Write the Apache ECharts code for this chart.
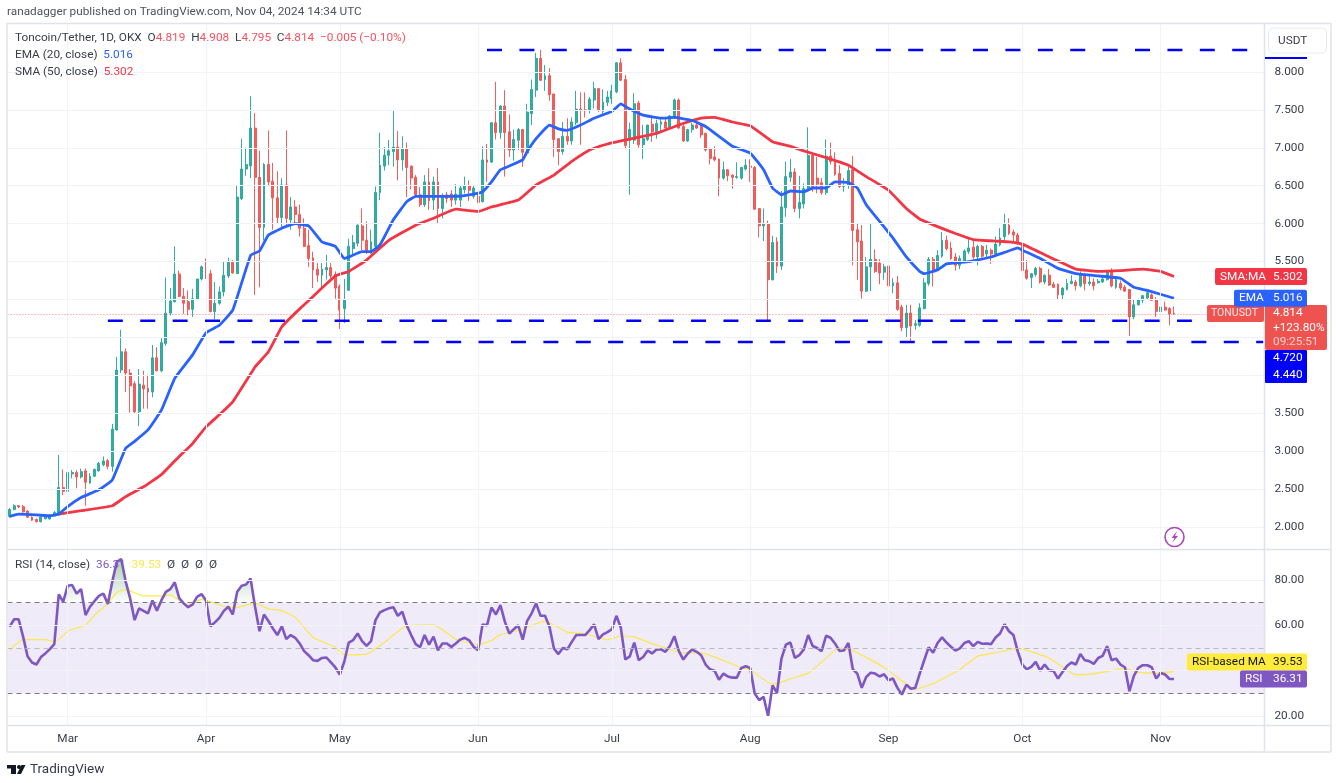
<!DOCTYPE html>
<html>
<head>
<meta charset="utf-8">
<title>TONUSDT</title>
<style>
html, body { margin: 0; padding: 0; background: #fff; }
#main { width: 1341px; height: 783px; }
</style>
<script src="https://cdn.jsdelivr.net/npm/echarts@6/dist/echarts.min.js"></script>
</head>
<body>
<div id="main"></div>
<script>
// k = days since Mar 1 2024, candles run k=-13 (Feb 17) to k=248 (Nov 4)
var march1 = 13
var dayCount = 282

var opens = [
  2.14,2.23,2.28,2.27,2.21,2.13,2.10,2.07,2.11,2.105,
  2.145,2.16,2.52,2.47,2.70,2.72,2.66,2.74,2.58,2.67,
  2.74,2.82,2.875,2.80,3.28,4.07,4.31,4.03,3.89,3.52,
  3.87,3.83,3.78,4.23,4.06,4.42,4.82,4.97,5.335,5.04,
  4.97,4.87,5.0,5.27,5.43,5.34,4.84,4.95,5.10,5.31,
  5.49,5.34,6.33,6.72,6.76,7.26,6.61,5.95,6.78,6.56,
  6.34,6.08,6.51,6.05,6.22,6.12,5.94,5.71,5.55,5.40,
  5.32,5.39,5.42,5.33,5.17,4.88,5.12,5.67,5.74,5.97,
  5.78,5.61,5.70,6.41,6.76,6.90,6.95,7.01,6.84,6.99,
  6.76,6.61,6.38,6.25,6.55,6.31,6.55,6.20,6.38,6.39,
  6.31,6.31,6.45,6.50,6.36,6.36,6.29,6.84,6.81,7.33,
  7.20,7.55,7.21,6.97,7.10,7.24,6.93,7.45,7.76,8.18,
  7.90,7.95,7.71,7.12,6.95,7.15,7.09,7.33,7.51,7.50,
  7.49,7.63,7.78,7.48,7.60,7.65,7.74,8.12,7.90,7.10,
  7.10,7.59,7.04,7.11,7.31,7.21,7.31,7.34,7.26,7.40,
  7.63,7.28,7.09,7.24,7.30,7.28,7.19,6.99,6.88,6.85,
  6.60,6.71,6.64,6.61,6.60,6.72,6.76,6.74,6.20,5.97,
  6.00,5.26,5.76,5.44,6.21,6.61,6.68,6.20,6.26,6.44,
  6.90,6.60,6.54,6.41,6.89,6.84,6.66,6.49,6.50,6.71,
  5.92,5.77,5.11,5.43,5.53,5.48,5.36,5.44,5.18,5.22,
  4.90,4.63,4.82,4.66,4.66,4.88,5.21,5.53,5.39,5.57,
  5.78,5.68,5.56,5.45,5.50,5.63,5.69,5.56,5.70,5.60,
  5.65,5.60,5.72,5.83,5.98,5.89,5.85,5.74,5.39,5.29,
  5.33,5.41,5.23,5.32,5.20,5.20,5.06,5.13,5.21,5.23,
  5.18,5.32,5.21,5.23,5.22,5.23,5.26,5.38,5.16,5.21,
  5.16,5.13,4.77,4.93,4.99,5.02,5.06,5.00,4.84,4.90,4.88,4.819
]
var closes = [
  2.23,2.28,2.265,2.20,2.13,2.09,2.07,2.13,2.145,2.16,
  2.19,2.52,2.47,2.72,2.72,2.66,2.73,2.59,2.67,2.76,
  2.84,2.87,2.80,3.29,4.07,4.31,4.03,3.86,3.52,3.885,
  3.82,3.78,4.23,4.06,4.43,4.82,4.98,5.335,5.04,4.95,
  4.87,5.01,5.27,5.43,5.34,4.84,4.95,5.10,5.32,5.49,
  5.35,6.35,6.72,6.78,7.26,6.61,5.95,6.78,6.55,6.34,
  6.08,6.51,6.07,6.22,6.12,5.94,5.70,5.54,5.39,5.32,
  5.40,5.42,5.31,5.15,4.86,5.00,5.70,5.75,5.98,5.78,
  5.64,5.76,6.41,6.77,6.90,6.96,7.01,6.84,6.99,6.74,
  6.60,6.38,6.25,6.55,6.30,6.55,6.20,6.36,6.33,6.31,
  6.39,6.47,6.50,6.44,6.47,6.28,6.84,6.81,7.33,7.20,
  7.55,7.20,6.97,7.11,7.24,6.94,7.47,7.77,8.18,7.89,
  7.95,7.70,7.11,6.95,7.15,7.09,7.34,7.51,7.50,7.49,
  7.64,7.78,7.50,7.60,7.67,7.75,8.12,7.89,7.03,7.24,
  7.58,7.04,7.12,7.30,7.21,7.32,7.34,7.26,7.42,7.63,
  7.26,7.09,7.24,7.30,7.26,7.17,6.97,6.86,6.84,6.60,
  6.71,6.63,6.61,6.62,6.74,6.77,6.74,6.19,5.97,6.00,
  5.26,5.75,5.44,6.22,6.62,6.68,6.20,6.28,6.46,6.90,
  6.46,6.52,6.41,6.89,6.82,6.65,6.49,6.50,6.70,5.91,
  5.76,5.11,5.43,5.53,5.37,5.35,5.43,5.18,5.22,4.87,
  4.63,4.82,4.65,4.68,4.89,5.22,5.53,5.38,5.58,5.78,
  5.67,5.54,5.45,5.54,5.64,5.68,5.56,5.70,5.57,5.65,
  5.60,5.73,5.81,6.00,5.87,5.85,5.74,5.38,5.28,5.34,
  5.41,5.23,5.32,5.19,5.16,5.06,5.15,5.21,5.24,5.18,
  5.32,5.21,5.23,5.18,5.24,5.27,5.38,5.18,5.26,5.15,
  5.11,4.77,4.93,5.00,5.05,5.09,4.99,4.84,4.90,4.86,4.81,4.814
]
var highs = [
  2.25,2.30,2.29,2.29,2.22,2.14,2.11,2.15,2.16,2.17,
  2.21,2.95,2.76,2.90,2.75,2.75,2.77,2.77,2.71,2.77,
  2.86,2.93,2.90,3.36,4.245,4.60,4.355,4.08,3.92,4.08,
  4.06,4.01,4.40,4.37,4.49,5.29,5.15,5.70,5.38,5.15,
  5.12,5.14,5.27,5.45,5.54,5.39,5.23,5.17,5.50,5.55,
  5.52,6.50,7.12,7.00,7.68,7.46,6.96,6.80,7.23,6.80,
  6.69,6.60,7.23,6.35,6.31,6.25,6.07,5.92,5.63,5.48,
  5.48,5.59,5.48,5.37,5.20,5.27,5.80,5.85,5.99,6.20,
  6.03,5.92,6.49,7.20,7.01,7.10,7.50,7.22,7.15,7.07,
  6.76,6.64,6.48,6.64,6.73,6.62,6.73,6.40,6.42,6.44,
  6.52,6.50,6.62,6.57,6.50,6.40,7.02,7.05,7.34,7.87,
  7.56,7.76,7.44,7.24,7.26,7.25,7.58,7.90,8.25,8.29,
  8.09,8.05,7.71,7.12,7.34,7.39,7.40,7.75,7.73,7.73,
  7.67,7.87,7.78,7.77,7.75,7.83,8.13,8.18,7.96,7.33,
  7.72,7.62,7.30,7.30,7.43,7.37,7.40,7.39,7.43,7.65,
  7.65,7.30,7.25,7.33,7.34,7.30,7.20,7.00,7.02,6.86,
  6.82,6.72,6.65,6.81,6.75,6.85,6.85,6.76,6.20,6.20,
  6.04,5.84,5.82,6.43,6.82,6.85,6.73,6.63,6.53,7.27,
  6.92,6.88,6.60,7.11,7.07,6.94,6.77,6.60,6.75,6.89,
  6.00,5.98,5.56,6.00,5.66,5.53,5.47,5.46,5.28,5.31,
  4.93,4.93,4.93,4.73,4.95,5.28,5.56,5.56,5.65,5.89,
  5.84,5.76,5.61,5.58,5.66,5.80,5.77,5.72,5.72,5.72,
  5.67,5.83,5.94,6.13,6.07,5.92,5.88,5.76,5.52,5.35,
  5.43,5.43,5.33,5.40,5.23,5.21,5.16,5.27,5.32,5.26,
  5.37,5.35,5.32,5.28,5.27,5.30,5.39,5.41,5.30,5.25,
  5.19,5.13,5.00,5.01,5.06,5.12,5.08,5.03,4.95,4.97,4.90,4.908
]
var lows = [
  2.12,2.22,2.25,2.19,2.12,2.08,2.06,2.06,2.10,2.10,
  2.14,2.15,2.42,2.44,2.64,2.51,2.64,2.28,2.57,2.66,
  2.73,2.80,2.76,2.73,3.27,4.03,3.78,3.51,3.50,3.33,
  3.56,3.56,3.71,4.05,4.04,4.39,4.79,4.96,5.03,4.81,
  4.79,4.77,4.99,5.25,5.27,4.83,4.74,4.93,5.04,5.28,
  5.34,5.34,6.31,6.63,6.60,5.06,5.16,5.78,6.50,5.92,
  6.00,5.92,5.96,5.92,6.00,5.83,5.69,5.43,5.15,5.23,
  5.13,5.26,5.28,5.01,4.61,4.69,5.12,5.60,5.70,5.65,
  5.60,5.60,5.68,6.31,6.70,6.77,6.75,6.57,6.70,6.35,
  6.45,6.35,6.22,6.22,6.18,6.18,6.00,6.07,6.27,6.22,
  6.25,6.22,6.40,6.30,6.33,6.27,6.28,6.55,6.80,7.11,
  7.12,6.62,6.88,6.83,6.97,6.75,6.90,7.30,7.67,7.88,
  7.75,7.62,6.88,6.77,6.91,7.04,7.04,7.30,7.04,7.40,
  7.45,7.52,7.47,7.43,7.55,7.58,7.72,7.88,6.98,6.38,
  7.05,7.00,6.85,7.09,7.08,7.12,7.20,7.24,7.25,7.38,
  7.25,7.08,7.08,7.20,7.25,7.13,6.95,6.78,6.82,6.36,
  6.58,6.56,6.46,6.59,6.58,6.70,6.55,6.18,5.82,5.77,
  4.73,5.25,5.35,5.39,6.09,6.55,6.15,6.07,6.20,6.44,
  6.42,6.40,6.38,6.38,6.78,6.63,6.47,6.42,6.46,5.45,
  5.26,5.01,5.10,5.11,5.35,5.20,5.26,5.16,5.08,4.85,
  4.58,4.50,4.44,4.60,4.64,4.87,5.18,5.17,5.38,5.55,
  5.65,5.52,5.38,5.40,5.48,5.60,5.53,5.45,5.55,5.54,
  5.47,5.58,5.70,5.76,5.85,5.76,5.72,5.17,5.26,5.15,
  5.30,5.21,5.20,5.18,5.15,5.00,5.00,5.12,5.20,5.12,
  5.16,5.12,5.18,5.12,5.21,5.22,5.25,5.16,5.14,5.12,
  5.10,4.52,4.74,4.92,4.95,5.00,4.98,4.77,4.79,4.85,4.66,4.795
]
var rsiValues = [
  59.4,62.7,62.7,55,46.4,43.6,42.7,46,47.6,49.5,
  51.7,73.7,70.4,77.5,77.8,74,76,64.5,68.2,70.7,
  73,74,69.4,79.3,88,89.3,79.3,71.9,62.3,67.5,
  66.4,65.3,71,66.4,71,74.8,76,79,72,69.7,
  68,69.2,72.6,73.8,71,59.6,61.3,63.3,66.4,68.2,
  64.8,74.8,77.5,78,80.7,68.2,57.4,64.8,61.9,58.6,
  55.7,59.6,53.9,55.7,54.5,52,48.6,46.8,44.6,44.3,
  45.6,45.8,43.6,41.4,38.3,43.9,52.4,53.5,56.4,53,
  50.9,53,62.3,65.7,66.7,67.5,68,64.2,66,60,
  55.7,51.7,50.4,55.7,51.5,55,49,52,52,50.5,
  52,53.7,54.5,53.4,50.5,49,60.4,60,67.9,64.8,
  68.9,61.6,56.4,58.3,60,53.7,62,65.3,69.7,64.2,
  64.2,59.4,49.8,47.3,50,49.4,52.7,55.7,55.7,55.7,
  57.9,60.4,53.9,56,57,58.3,64.2,58.9,44.9,46.3,
  52.4,44.6,46,48.9,47.6,49.3,49.4,48.3,50.9,55.2,
  48.6,44.9,47.6,49.3,48.3,46.8,42.7,40.6,40,36,
  38.7,37.4,36.9,36.9,41.2,41.9,41.2,29.9,27,28.4,
  20,33.5,30.2,45.3,51.5,52.4,45.6,46.8,49.4,55.7,
  50.9,50,48.6,55.4,54.5,52,48.7,48.9,52.2,40.6,
  38.7,32.4,37.2,39.1,38.7,37.4,38.4,35.8,36.5,32.4,
  29.4,33.8,32,32.4,38.7,44.6,50.3,47.9,52.2,54.7,
  52.4,50.5,48.9,49.8,52.2,53,50.8,52.7,51.9,52,
  51.7,54.6,56.4,60.5,57.4,55.7,48.3,42.7,40.6,41.7,
  43.9,40,42.7,40.2,39.8,36.5,39.4,42,43.6,42.7,
  47.3,44.6,44.2,43,45.6,46.5,50.8,44.6,45.3,42.7,
  41.5,30.9,37.7,41.2,42.4,42.4,41.5,36.5,39,38.3,36.3,36.31
]

var emaDays = [-13,-11,-7,-4,-2,0,3,7,10,13,15,18,21,24,28,31,34,37,41,43,45,48,51,54,57,60,62,63,66,68,70,73,76,78,82,87,91,93,95,97,99,102,103,105,108,110,112,115,118,122,124,126,129,133,136,140,143,146,149,153,156,158,160,162,165,167,170,172,175,177,179,182,185,188,191,192,195,197,202,207,210,213,214,218,222,226,231,236,239,242,248]
var emaValues = [2.14,2.17,2.16,2.145,2.17,2.27,2.39,2.49,2.62,3.04,3.13,3.28,3.54,3.96,4.27,4.56,4.66,4.86,5.58,5.64,5.85,5.94,6.0,5.97,5.76,5.70,5.54,5.56,5.63,5.63,5.72,6.05,6.29,6.36,6.36,6.36,6.39,6.42,6.55,6.71,6.76,6.84,6.95,7.12,7.3,7.25,7.23,7.3,7.39,7.48,7.58,7.51,7.43,7.39,7.4,7.36,7.28,7.15,7.02,6.93,6.71,6.47,6.38,6.43,6.42,6.47,6.47,6.55,6.54,6.47,6.25,6.03,5.81,5.56,5.37,5.34,5.39,5.47,5.5,5.56,5.62,5.68,5.65,5.54,5.41,5.34,5.31,5.28,5.16,5.12,5.016]
var smaDays = [-2,3,10,13,17,21,25,28,31,34,37,42,45,48,51,55,60,63,67,72,78,82,87,92,95,101,105,109,113,117,121,124,128,132,137,142,145,149,153,158,162,165,170,175,179,184,188,191,195,199,203,208,211,214,219,223,226,231,236,241,245,248]
var smaValues = [2.17,2.215,2.28,2.40,2.53,2.69,2.93,3.10,3.32,3.48,3.65,4.11,4.31,4.64,4.82,5.04,5.31,5.37,5.52,5.78,5.98,6.07,6.19,6.16,6.22,6.31,6.51,6.64,6.82,6.97,7.05,7.09,7.14,7.19,7.3,7.39,7.4,7.34,7.29,7.08,7.02,6.96,6.87,6.77,6.62,6.44,6.2,6.06,5.96,5.87,5.79,5.77,5.76,5.73,5.59,5.48,5.4,5.37,5.38,5.4,5.37,5.302]
var rsiMaDays = [-13,-10,-5,-3,-1,0,4,6,9,11,13,17,21,23,27,30,36,38,42,45,48,51,55,60,62,67,71,76,82,87,92,95,97,101,107,112,116,121,124,127,132,138,142,147,151,153,158,162,166,169,173,176,183,186,190,194,200,204,208,213,220,226,230,235,237,240,244,248]
var rsiMaValues = [49,53.7,53.7,52.7,55.4,57.5,60.1,64.5,69.6,74.5,75.8,73,73,73.3,68.9,71.5,68,68,69.8,67.3,66.5,63.5,54.7,50.3,47,47.3,52.5,59.9,60.2,54,51.5,53.3,55.9,57.7,61.9,57,56.3,53.6,55.3,54.8,51.2,47.8,47.8,44.5,41.3,40.4,33.9,36.4,38.9,43.8,50,48.9,41.5,37,31.8,34.3,40.5,46.4,47.9,49.8,45.6,38.2,38.6,40.4,41,39.2,38.9,39.53]

// hand drawn support / resistance levels
var levelValues = [8.29, 4.72, 4.44]
var levelFromDays = [94, 9, 34]
var levelToDays = [266, 252, 268]

var priceTicks = [2, 2.5, 3, 3.5, 4, 4.5, 5, 5.5, 6, 6.5, 7, 7.5, 8]
var priceLabels = [2, 2.5, 3, 3.5, 5.5, 6, 6.5, 7, 7.5, 8]
var rsiTicks = [20, 40, 60, 80]
var rsiLabels = [20, 60, 80]
var monthDays = ['2024-03-01', '2024-04-01', '2024-05-01', '2024-06-01', '2024-07-01', '2024-08-01', '2024-09-01', '2024-10-01', '2024-11-01']
var monthLabels = ['Mar', 'Apr', 'May', 'Jun', 'Jul', 'Aug', 'Sep', 'Oct', 'Nov']

var lastPrice = 4.814, lastEma = 5.016, lastSma = 5.302, lastRsi = 36.31

var fontName = 'Roboto, sans-serif'
var fontSize = 11.8
var textColor = '#3a3d47'
var gridColor = '#f0f3fa'
var frameColor = '#e0e3eb'
var upColor = '#26a69a', downColor = '#ef5350'

// one category per day, the empty ones leave the gap on the right
var categories = []
for (var i = 0; i < dayCount; i++) {
    var d = new Date(Date.UTC(2024, 1, 17 + i))
    categories.push(d.toISOString().substring(0, 10))
}

var candleData = opens.map(function (o, i) {
    return [o, closes[i], lows[i], highs[i]]
})

function pairs (days, values) {
    return days.map(function (k, i) { return [k + march1, values[i]] })
}

function gridLines (ticks) {
    var lines = ticks.map(function (t) { return { yAxis: t } })
    monthDays.forEach(function (m) { lines.push({ xAxis: m }) })
    return lines
}

var series = []

// pane gridlines
series.push({
    type: 'line', xAxisIndex: 0, yAxisIndex: 0, data: [], z: 0, silent: true,
    markLine: { silent: true, symbol: 'none', animation: false, label: { show: false }, lineStyle: { color: gridColor, width: 1, type: 'solid' }, data: gridLines(priceTicks) }
})
series.push({
    type: 'line', xAxisIndex: 1, yAxisIndex: 1, data: [], z: 0, silent: true,
    markLine: { silent: true, symbol: 'none', animation: false, label: { show: false }, lineStyle: { color: gridColor, width: 1, type: 'solid' }, data: gridLines(rsiTicks) }
})

series.push({
    type: 'candlestick', name: 'TONUSDT', xAxisIndex: 0, yAxisIndex: 0, data: candleData, barWidth: 2.4, z: 2,
    itemStyle: { color: upColor, color0: downColor, borderColor: upColor, borderColor0: downColor, borderWidth: 1, opacity: 0.92 },
    markLine: {
        silent: true, symbol: 'none', animation: false, label: { show: false },
        lineStyle: { color: '#ef5350', width: 1, type: [1, 2], opacity: 0.7 },
        data: [{ yAxis: lastPrice }]
    }
})
series.push({
    type: 'line', name: 'SMA', xAxisIndex: 0, yAxisIndex: 0, data: pairs(smaDays, smaValues), z: 3,
    showSymbol: false, smooth: 0.1, lineStyle: { color: '#f23645', width: 2.8 }
})
series.push({
    type: 'line', name: 'EMA', xAxisIndex: 0, yAxisIndex: 0, data: pairs(emaDays, emaValues), z: 4,
    showSymbol: false, smooth: 0.1, lineStyle: { color: '#2962ff', width: 2.8 }
})
levelValues.forEach(function (v, i) {
    series.push({
        type: 'line', xAxisIndex: 0, yAxisIndex: 0, z: 5, showSymbol: false,
        data: [[levelFromDays[i] + march1, v], [levelToDays[i] + march1, v]],
        lineStyle: { color: '#0000ff', width: 2.5, type: [15, 17.4] }
    })
})

// overbought shading sits on top of the 70 line
series.push({
    type: 'line', stack: 'ob', xAxisIndex: 1, yAxisIndex: 1, z: 1, showSymbol: false,
    data: rsiValues.map(function () { return 70 }), lineStyle: { width: 0 }
})
series.push({
    type: 'line', stack: 'ob', xAxisIndex: 1, yAxisIndex: 1, z: 1, showSymbol: false,
    data: rsiValues.map(function (v) { return v > 70 ? v - 70 : 0 }), lineStyle: { width: 0 },
    areaStyle: {
        color: new echarts.graphic.LinearGradient(0, 0, 0, 1, [
            { offset: 0, color: 'rgba(56,142,60,0.6)' },
            { offset: 1, color: 'rgba(56,142,60,0.02)' }
        ])
    }
})
series.push({
    type: 'line', name: 'RSI-based MA', xAxisIndex: 1, yAxisIndex: 1, data: pairs(rsiMaDays, rsiMaValues), z: 3,
    showSymbol: false, smooth: 0.15, lineStyle: { color: '#fde74c', width: 1.2 }
})
series.push({
    type: 'line', name: 'RSI', xAxisIndex: 1, yAxisIndex: 1, data: rsiValues, z: 4,
    showSymbol: false, lineStyle: { color: '#7e57c2', width: 2.6 },
    markArea: {
        silent: true, animation: false, itemStyle: { color: 'rgba(126,87,194,0.12)' },
        data: [[{ yAxis: 30 }, { yAxis: 70 }]]
    },
    markLine: {
        silent: true, symbol: 'none', animation: false, label: { show: false },
        lineStyle: { color: '#787b86', width: 1, type: [5, 4] },
        data: [{ yAxis: 70 }, { yAxis: 30 }, { yAxis: 50, lineStyle: { color: '#b8bac2' } }]
    }
})

var chart = echarts.init(document.getElementById('main'), null, { renderer: 'canvas' })

chart.setOption({
    animation: false,
    backgroundColor: '#fff',
    textStyle: { fontFamily: fontName },
    grid: [
        { left: 7.47, width: 1258, top: 24, height: 525 },
        { left: 7.47, width: 1258, top: 549, height: 176 }
    ],
    xAxis: [
        { type: 'category', gridIndex: 0, data: categories, axisLine: { show: false }, axisTick: { show: false }, axisLabel: { show: false }, splitLine: { show: false } },
        {
            type: 'category', gridIndex: 1, data: categories, axisLine: { show: false }, axisTick: { show: false }, splitLine: { show: false },
            axisLabel: {
                color: textColor, fontSize: fontSize, fontFamily: fontName, margin: 8, hideOverlap: false,
                interval: function (idx, value) { return monthDays.indexOf(value) >= 0 },
                formatter: function (value) { return monthLabels[monthDays.indexOf(value)] }
            }
        }
    ],
    yAxis: [
        {
            type: 'value', gridIndex: 0, position: 'right', min: 1.71, max: 8.632, scale: true,
            axisLine: { show: false }, axisTick: { show: false }, splitLine: { show: false },
            axisLabel: {
                color: textColor, fontSize: fontSize, fontFamily: fontName, margin: 9, padding: [2, 0, 0, 0], customValues: priceLabels,
                formatter: function (v) { return v.toFixed(3) }
            }
        },
        {
            type: 'value', gridIndex: 1, position: 'right', min: 16, max: 93.7, scale: true,
            axisLine: { show: false }, axisTick: { show: false }, splitLine: { show: false },
            axisLabel: {
                color: textColor, fontSize: fontSize, fontFamily: fontName, margin: 9, padding: [2, 0, 0, 0], customValues: rsiLabels,
                formatter: function (v) { return v.toFixed(2) }
            }
        }
    ],
    series: series
})

function text (x, y, str, color, size, extra) {
    var style = { x: x, y: y, text: str, fill: color, fontSize: size || fontSize, fontFamily: fontName, verticalAlign: 'middle', align: 'left' }
    for (var key in (extra || {})) style[key] = extra[key]
    return { type: 'text', z: 20, silent: true, style: style }
}

function box (x, y, w, h, color, r) {
    return { type: 'rect', z: 15, silent: true, shape: { x: x, y: y, width: w, height: h, r: r || 0 }, style: { fill: color } }
}

function line (x1, y1, x2, y2, color, w) {
    return { type: 'line', z: 12, silent: true, shape: { x1: x1, y1: y1, x2: x2, y2: y2 }, style: { stroke: color, lineWidth: w || 1 } }
}

// price tag with a name part left of the axis and a value part right of it
function tag (name, nameX, value, y, color, fg) {
    return [
        box(nameX, y - 8.5, 1307 - nameX, 17, color, 2),
        text(nameX + 5, y, name, fg || '#fff'),
        text(1273, y, value, fg || '#fff'),
        line(1264.5, y - 8.5, 1264.5, y + 8.5, 'rgba(255,255,255,0.5)', 1)
    ]
}

var priceY = function (v) { return chart.convertToPixel({ yAxisIndex: 0 }, v) }
var rsiY = function (v) { return chart.convertToPixel({ yAxisIndex: 1 }, v) }

var elements = [
    // frame and pane separators
    line(7, 23.5, 1331, 23.5, frameColor, 1.5),
    line(7, 752, 1331, 752, frameColor, 1.5),
    line(7, 23, 7, 752, frameColor, 1.5),
    line(1331, 23, 1331, 752, frameColor, 1.5),
    line(1264.5, 23, 1264.5, 752, frameColor, 1.5),
    line(7, 549.5, 1331, 549.5, frameColor, 1.5),
    line(7, 725.5, 1331, 725.5, frameColor, 1.5),

    text(7, 12, 'ranadagger published on TradingView.com, Nov 04, 2024 14:34 UTC', '#50535e'),

    {
        type: 'text', z: 20, silent: true,
        style: {
            x: 15, y: 38, verticalAlign: 'middle', fontSize: fontSize, fontFamily: fontName, fill: textColor,
            text: 'Toncoin/Tether, 1D, OKX  O{r|4.819}  H{r|4.908}  L{r|4.795}  C{r|4.814}  {r|\u22120.005 (\u22120.10%)}',
            rich: { r: { fill: '#f7525f', fontSize: fontSize, fontFamily: fontName } }
        }
    },
    {
        type: 'text', z: 20, silent: true,
        style: {
            x: 15, y: 55, verticalAlign: 'middle', fontSize: fontSize, fontFamily: fontName, fill: textColor,
            text: 'EMA (20, close)  {b|5.016}', rich: { b: { fill: '#2962ff', fontSize: fontSize, fontFamily: fontName } }
        }
    },
    {
        type: 'text', z: 20, silent: true,
        style: {
            x: 15, y: 72, verticalAlign: 'middle', fontSize: fontSize, fontFamily: fontName, fill: textColor,
            text: 'SMA (50, close)  {r|5.302}', rich: { r: { fill: '#f23645', fontSize: fontSize, fontFamily: fontName } }
        }
    },
    {
        type: 'text', z: 1, silent: true,
        style: {
            x: 15, y: 565, verticalAlign: 'middle', fontSize: fontSize, fontFamily: fontName, fill: textColor,
            text: 'RSI (14, close)  {p|36.31}  {y|39.53}  \u00d8  \u00d8  \u00d8  \u00d8',
            rich: { p: { fill: '#7e57c2', fontSize: fontSize, fontFamily: fontName }, y: { fill: '#fde74c', fontSize: fontSize, fontFamily: fontName } }
        }
    },

    // currency button
    { type: 'rect', z: 16, silent: true, shape: { x: 1268.5, y: 28, width: 58, height: 25, r: 5 }, style: { fill: '#fff', stroke: '#e8eaf0', lineWidth: 1 } },
    text(1278, 41, 'USDT', textColor),
    box(1265, 57, 42, 2, '#0000ff'),

    // last price tag, three rows on the axis
    box(1207, 305, 57, 17, '#ef5350', 2),
    text(1211, 313.5, 'TONUSDT', '#fde6e6', 10.5),
    box(1265, 305, 62, 45, '#ef5350', 2),
    text(1273, 313.5, '4.814', '#fff'),
    text(1273, 328, '+123.80%', '#fff'),
    text(1273, 342, '09:25:51', '#fbd0d0'),

    // level tags pushed below the last price tag
    box(1265, 350, 42, 33, '#0000ff', 1),
    text(1273, 358, '4.720', '#fff'),
    text(1273, 375, '4.440', '#fff'),

    // session break icon
    { type: 'circle', z: 16, silent: true, shape: { cx: 1174.5, cy: 537, r: 9.5 }, style: { fill: '#fff', stroke: '#ab47bc', lineWidth: 1.6 } },
    { type: 'polygon', z: 17, silent: true, shape: { points: [[1177, 531], [1171.5, 538], [1174.5, 538], [1172, 543], [1178, 536], [1175, 536]] }, style: { fill: '#ab47bc' } },

    // TradingView mark
    box(7, 765, 9, 3.5, '#131722'),
    box(11, 765, 5, 9, '#131722'),
    { type: 'circle', z: 16, silent: true, shape: { cx: 19, cy: 767, r: 2 }, style: { fill: '#131722' } },
    { type: 'polygon', z: 16, silent: true, shape: { points: [[21.5, 765], [25.5, 765], [21, 774], [17, 774]] }, style: { fill: '#131722' } },
    text(30, 769.5, 'TradingView', '#363a45', 13.5)
]

// the MA tag is pushed up so it sits on top of the RSI tag
elements = elements
    .concat(tag('SMA:MA', 1215, '5.302', priceY(lastSma), '#f23645'))
    .concat(tag('EMA', 1234, '5.016', priceY(lastEma), '#2962ff'))
    .concat(tag('RSI-based MA', 1187, '39.53', rsiY(lastRsi) - 17, '#ffeb3b', '#131722'))
    .concat(tag('RSI', 1240, '36.31', rsiY(lastRsi), '#7e57c2'))

chart.setOption({ graphic: { elements: elements } })
</script>
</body>
</html>
